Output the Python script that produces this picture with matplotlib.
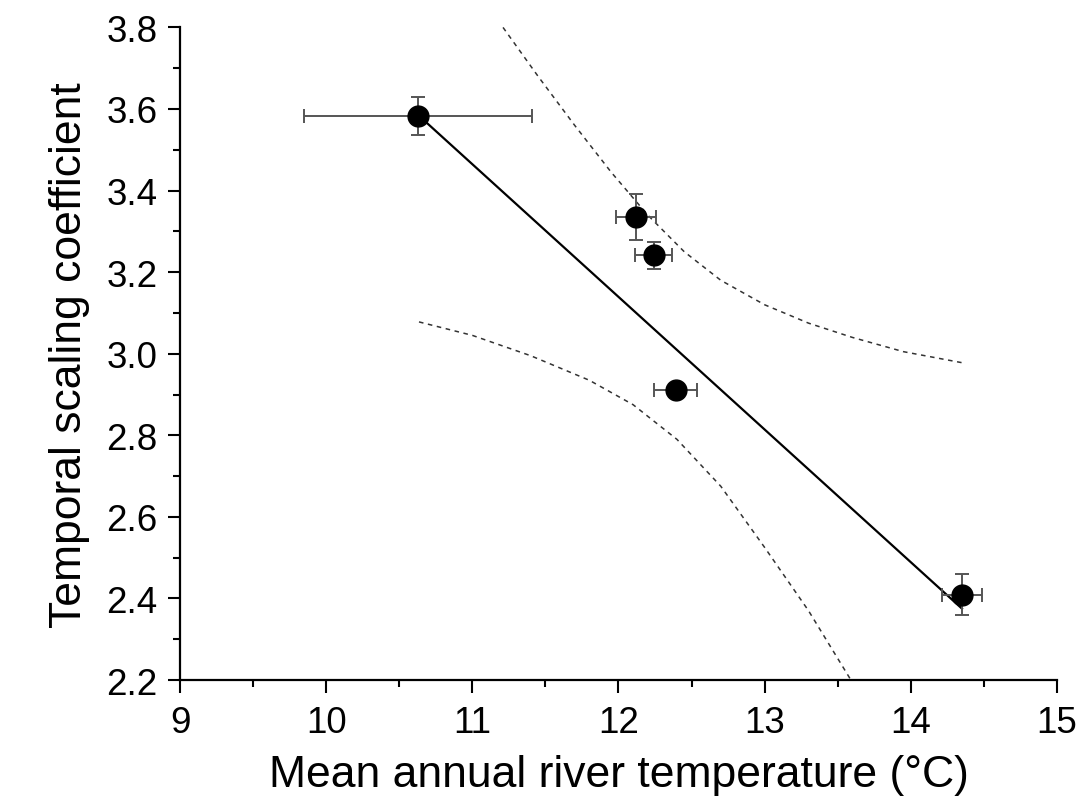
import numpy as np
import matplotlib.pyplot as plt
from matplotlib.ticker import MultipleLocator

plt.rcParams['font.family'] = ['Liberation Sans', 'DejaVu Sans']

# data
temp = [10.63, 12.12, 12.24, 12.39, 14.35]
temp_err = [0.78, 0.135, 0.125, 0.145, 0.14]
coef = [3.583, 3.335, 3.241, 2.912, 2.409]
coef_err = [0.046, 0.056, 0.034, 0.0, 0.05]

# fitted line
fit_x = [10.63, 14.35]
fit_y = [3.585, 2.375]

# confidence bands
upper_x = [11.21, 11.45, 11.70, 11.95, 12.20, 12.45, 12.70, 13.00, 13.30, 13.60, 13.95, 14.35]
upper_y = [3.80, 3.68, 3.56, 3.445, 3.34, 3.25, 3.18, 3.12, 3.075, 3.04, 3.005, 2.978]
lower_x = [10.635, 11.0, 11.4, 11.8, 12.1, 12.4, 12.7, 13.0, 13.3, 13.59]
lower_y = [3.078, 3.045, 2.995, 2.935, 2.875, 2.79, 2.675, 2.525, 2.37, 2.20]

fig = plt.figure(figsize=(10.89, 8.12), dpi=100)
ax = fig.add_axes([0.1653, 0.1613, 0.8053, 0.8037])

ax.plot(upper_x, upper_y, ls=(0, (3, 3)), color='#333333', lw=1.1)
ax.plot(lower_x, lower_y, ls=(0, (3, 3)), color='#333333', lw=1.1)
ax.plot(fit_x, fit_y, color='black', lw=1.6, zorder=3)
ax.errorbar(temp, coef, xerr=temp_err, yerr=coef_err, fmt='o', color='black',
            ecolor='#555555', elinewidth=1.4, capsize=5, capthick=1.4,
            markersize=15, zorder=4)

ax.set_xlim(9, 15)
ax.set_ylim(2.2, 3.8)
ax.xaxis.set_major_locator(MultipleLocator(1))
ax.xaxis.set_minor_locator(MultipleLocator(0.5))
ax.yaxis.set_major_locator(MultipleLocator(0.2))
ax.yaxis.set_minor_locator(MultipleLocator(0.1))
ax.yaxis.set_major_formatter(plt.FormatStrFormatter('%.1f'))

for s in ['top', 'right']:
    ax.spines[s].set_visible(False)
for s in ['left', 'bottom']:
    ax.spines[s].set_linewidth(1.6)
ax.tick_params(which='major', length=9, width=1.5, labelsize=26.5)
ax.tick_params(which='minor', length=5, width=1.5)
ax.tick_params(axis='x', which='major', pad=9)
ax.tick_params(axis='y', which='major', pad=7)

ax.set_xlabel('Mean annual river temperature (°C)', fontsize=32, labelpad=10)
ax.set_ylabel('Temporal scaling coefficient', fontsize=32, labelpad=12)

plt.savefig('out.png', dpi=100)
